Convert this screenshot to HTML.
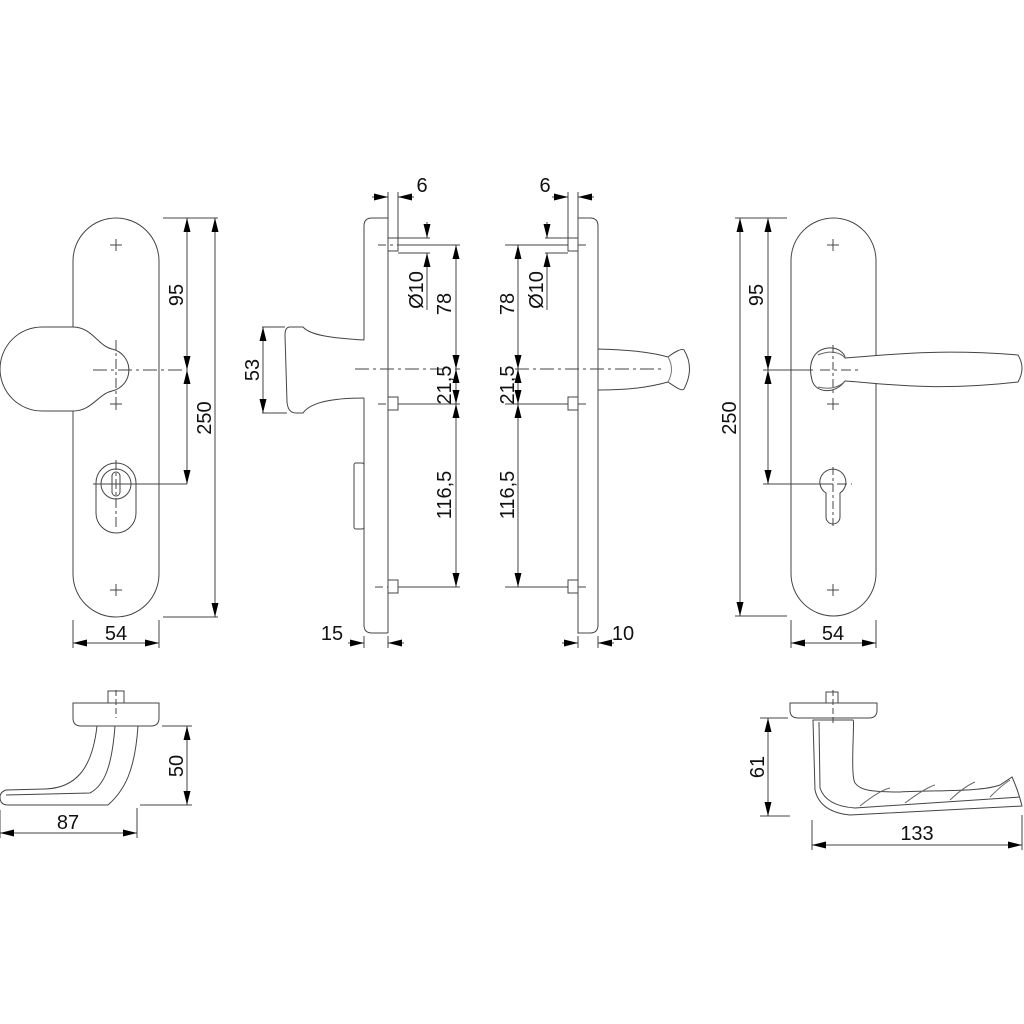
<!DOCTYPE html>
<html><head><meta charset="utf-8"><style>
html,body{margin:0;padding:0;background:#fff}
svg{display:block}
text{font-family:"Liberation Sans",Arial,sans-serif;font-size:20px;fill:#111}
</style></head><body>
<svg width="1024" height="1024" viewBox="0 0 1024 1024" xmlns="http://www.w3.org/2000/svg">
<defs>
<marker id="a" viewBox="0 0 16 8" refX="16" refY="4" markerWidth="15" markerHeight="7" markerUnits="userSpaceOnUse" orient="auto-start-reverse">
<path d="M0,0 L16,4 L0,8 Z" fill="#000"/>
</marker>
</defs>
<g fill="none" stroke="#444" stroke-width="1">

<!-- ========== LEFT FRONT VIEW ========== -->
<rect x="73" y="218" width="86" height="399" rx="43" ry="43" fill="#fff"/>
<path d="M110,245h12M116,239v12M110,404h12M116,398v12M110,590h12M116,584v12"/>
<path d="M73,327 C92,327 98,346 112,349 A21.5,21.5 0 0 1 112,391 C98,394 92,411 73,411 L42,411 A42,42 0 0 1 42,327 Z" fill="#fff"/>
<path d="M93,370h92" stroke-dasharray="14,4,3,4"/>
<path d="M116,340v62" stroke-dasharray="10,3,3,3"/>
<rect x="96" y="463" width="40" height="70" rx="20" fill="none"/>
<circle cx="116" cy="484" r="15"/>
<rect x="112" y="472" width="8" height="24" rx="4"/>
<path d="M93,484h94"/>
<path d="M116,460v70" stroke-dasharray="10,3,3,3"/>
<path d="M163,218h55M163,617h55"/>
<path d="M187,218v152" marker-start="url(#a)" marker-end="url(#a)"/>
<path d="M187,370v114" marker-start="url(#a)" marker-end="url(#a)"/>
<path d="M215,218v399" marker-start="url(#a)" marker-end="url(#a)"/>
<path d="M73,620v28M159,620v28"/>
<path d="M73,643h86" marker-start="url(#a)" marker-end="url(#a)"/>

<!-- ========== LEFT SIDE VIEW ========== -->
<path d="M388,218 H372 Q364,218 364,226 V340"/>
<path d="M364,398 V625 Q364,633 372,633 H388"/>
<path d="M388,218 V633"/>
<path d="M364,340 C330,338 310,335 303,327 L290,327 Q285,327 285,335 L287,402 Q288,413 296,413 L303,413 C310,403 330,398 364,398"/>
<rect x="354" y="463" width="10" height="66" rx="2"/>
<rect x="388" y="238" width="10" height="13"/>
<rect x="388" y="397" width="10" height="13"/>
<rect x="388" y="580" width="10" height="13"/>
<path d="M378,245h20M378,404h10M375,587h13" stroke-dasharray="8,4,3,4"/>
<path d="M398,245h62M398,404h62M398,587h62"/>
<path d="M355,369h105" stroke-dasharray="14,4,3,4"/>
<path d="M398,238h32M398,253h32"/>
<path d="M388,192v26M398,192v46"/>
<path d="M372,197h16" marker-end="url(#a)"/>
<path d="M414,197h-16" marker-end="url(#a)"/>
<path d="M427,222v16" marker-end="url(#a)"/>
<path d="M427,310v-57" marker-end="url(#a)"/>
<path d="M456,245v124" marker-start="url(#a)" marker-end="url(#a)"/>
<path d="M456,369v35" marker-start="url(#a)" marker-end="url(#a)"/>
<path d="M456,404v183" marker-start="url(#a)" marker-end="url(#a)"/>
<path d="M262,327h23M262,413h25"/>
<path d="M263,327v86" marker-start="url(#a)" marker-end="url(#a)"/>
<path d="M364,636v12M388,636v12"/>
<path d="M348,643h16" marker-end="url(#a)"/>
<path d="M404,643h-16" marker-end="url(#a)"/>

<!-- ========== RIGHT SIDE VIEW ========== -->
<path d="M578,218 H590 Q598,218 598,226 V625 Q598,633 590,633 H578 Z"/>
<rect x="568" y="238" width="10" height="13"/>
<rect x="568" y="397" width="10" height="13"/>
<rect x="568" y="580" width="10" height="13"/>
<path d="M578,245h10M578,404h10M578,587h10" stroke-dasharray="8,4,3,4"/>
<path d="M505,245h63M505,404h63M505,587h63"/>
<path d="M515,369h150" stroke-dasharray="14,4,3,4"/>
<path d="M545,238h23M545,253h23"/>
<path d="M598,349 V390 M598,349 C630,350 650,352 668,357 C674,352 682,348 684,350 Q695,368 684,389 C682,392 674,386 668,382 C650,387 630,390 598,390"/>
<path d="M668,357 Q675,369 668,382" stroke="#777"/>
<path d="M568,192v46M578,192v26"/>
<path d="M552,197h16" marker-end="url(#a)"/>
<path d="M594,197h-16" marker-end="url(#a)"/>
<path d="M547,222v16" marker-end="url(#a)"/>
<path d="M547,310v-57" marker-end="url(#a)"/>
<path d="M518,245v124" marker-start="url(#a)" marker-end="url(#a)"/>
<path d="M518,369v35" marker-start="url(#a)" marker-end="url(#a)"/>
<path d="M518,404v183" marker-start="url(#a)" marker-end="url(#a)"/>
<path d="M578,636v12M598,636v12"/>
<path d="M562,643h16" marker-end="url(#a)"/>
<path d="M614,643h-16" marker-end="url(#a)"/>

<!-- ========== RIGHT FRONT VIEW ========== -->
<rect x="791" y="218" width="85" height="398" rx="42.5" ry="42.5" fill="#fff"/>
<path d="M827,245h12M833,239v12M827,404h12M833,398v12M827,590h12M833,584v12"/>
<path d="M845,358 C880,356 930,348 1018,355 Q1026,368 1018,382 C930,392 880,383 845,381 C835,395 815,393 812,380 C808,365 812,350 828,348 C840,347 845,355 845,358 Z" fill="#fff"/>
<path d="M818,355 C830,350 840,352 845,358 M818,387 C830,390 840,387 845,381" stroke="#666"/>
<path d="M820,370h38" stroke-dasharray="10,4,3,4"/>
<path d="M833,345v50" stroke-dasharray="8,3,3,3"/>
<path d="M820,484 A13,13 0 1 1 840,493 L840,517 A6.5,6.5 0 0 1 826,517 L826,493 A13,13 0 0 1 820,484 Z"/>
<path d="M816,484h36" stroke-dasharray="10,4,3,4"/>
<path d="M833,467v60" stroke-dasharray="8,3,3,3"/>
<path d="M735,218h52M735,616h52M763,370h50M763,484h68"/>
<path d="M768,218v152" marker-start="url(#a)" marker-end="url(#a)"/>
<path d="M768,370v114" marker-start="url(#a)" marker-end="url(#a)"/>
<path d="M740,218v398" marker-start="url(#a)" marker-end="url(#a)"/>
<path d="M791,620v28M876,620v28"/>
<path d="M791,643h85" marker-start="url(#a)" marker-end="url(#a)"/>

<!-- ========== BOTTOM LEFT HANDLE ========== -->
<rect x="108" y="691" width="16" height="12"/>
<path d="M73,703 H159 V718 Q159,726 151,726 H81 Q73,726 73,718 Z"/>
<path d="M116,690v28" stroke-dasharray="6,3"/>
<path d="M97,726 C92,770 75,788 45,789 L6,790 Q0,792 0,797 Q0,805 8,805 L108,805 C125,790 135,770 138,726"/>
<path d="M115,726 C112,765 105,785 90,793 L6,795"/>
<path d="M162,726h30M140,805h52"/>
<path d="M187,726v79" marker-start="url(#a)" marker-end="url(#a)"/>
<path d="M0,810v28M137,808v30"/>
<path d="M0,833h137" marker-start="url(#a)" marker-end="url(#a)"/>

<!-- ========== BOTTOM RIGHT HANDLE ========== -->
<rect x="826" y="692" width="12" height="11"/>
<path d="M790,703 H877 V710 Q877,718 869,718 H798 Q790,718 790,710 Z"/>
<path d="M833,690v35" stroke-dasharray="6,3"/>
<path d="M813,720 L815,790 Q820,812 850,815 L1022,806 Q1018,790 1012,777 L1000,785 C980,792 940,790 900,792 C870,792 860,790 855,783 C850,775 855,720 853,720 Z"/>
<path d="M819,722 L820,788 Q826,806 855,808 L1020,797"/>
<path d="M860,806 Q880,790 890,788 M905,803 Q925,788 935,785 M950,800 Q965,786 975,782 M990,797 Q1002,785 1010,780" stroke="#666"/>
<path d="M760,718h28M760,816h30"/>
<path d="M768,718v98" marker-start="url(#a)" marker-end="url(#a)"/>
<path d="M812,820v30M1022,815v35"/>
<path d="M812,845h210" marker-start="url(#a)" marker-end="url(#a)"/>
</g>

<text x="116" y="640" text-anchor="middle">54</text>
<text transform="translate(183,295) rotate(-90)" text-anchor="middle">95</text>
<text transform="translate(211,418) rotate(-90)" text-anchor="middle">250</text>

<text x="422" y="192" text-anchor="middle">6</text>
<text transform="translate(423,290) rotate(-90)" text-anchor="middle">Ø10</text>
<text transform="translate(451,304) rotate(-90)" text-anchor="middle">78</text>
<text transform="translate(451,385) rotate(-90)" text-anchor="middle">21,5</text>
<text transform="translate(451,495) rotate(-90)" text-anchor="middle">116,5</text>
<text transform="translate(259,370) rotate(-90)" text-anchor="middle">53</text>
<text x="332" y="640" text-anchor="middle">15</text>

<text x="545" y="192" text-anchor="middle">6</text>
<text transform="translate(543,290) rotate(-90)" text-anchor="middle">Ø10</text>
<text transform="translate(514,304) rotate(-90)" text-anchor="middle">78</text>
<text transform="translate(514,385) rotate(-90)" text-anchor="middle">21,5</text>
<text transform="translate(514,495) rotate(-90)" text-anchor="middle">116,5</text>
<text x="623" y="640" text-anchor="middle">10</text>

<text x="833" y="640" text-anchor="middle">54</text>
<text transform="translate(763,295) rotate(-90)" text-anchor="middle">95</text>
<text transform="translate(736,418) rotate(-90)" text-anchor="middle">250</text>

<text transform="translate(183,766) rotate(-90)" text-anchor="middle">50</text>
<text x="68" y="829" text-anchor="middle">87</text>
<text transform="translate(764,767) rotate(-90)" text-anchor="middle">61</text>
<text x="917" y="840" text-anchor="middle">133</text>
</svg>
</body></html>
